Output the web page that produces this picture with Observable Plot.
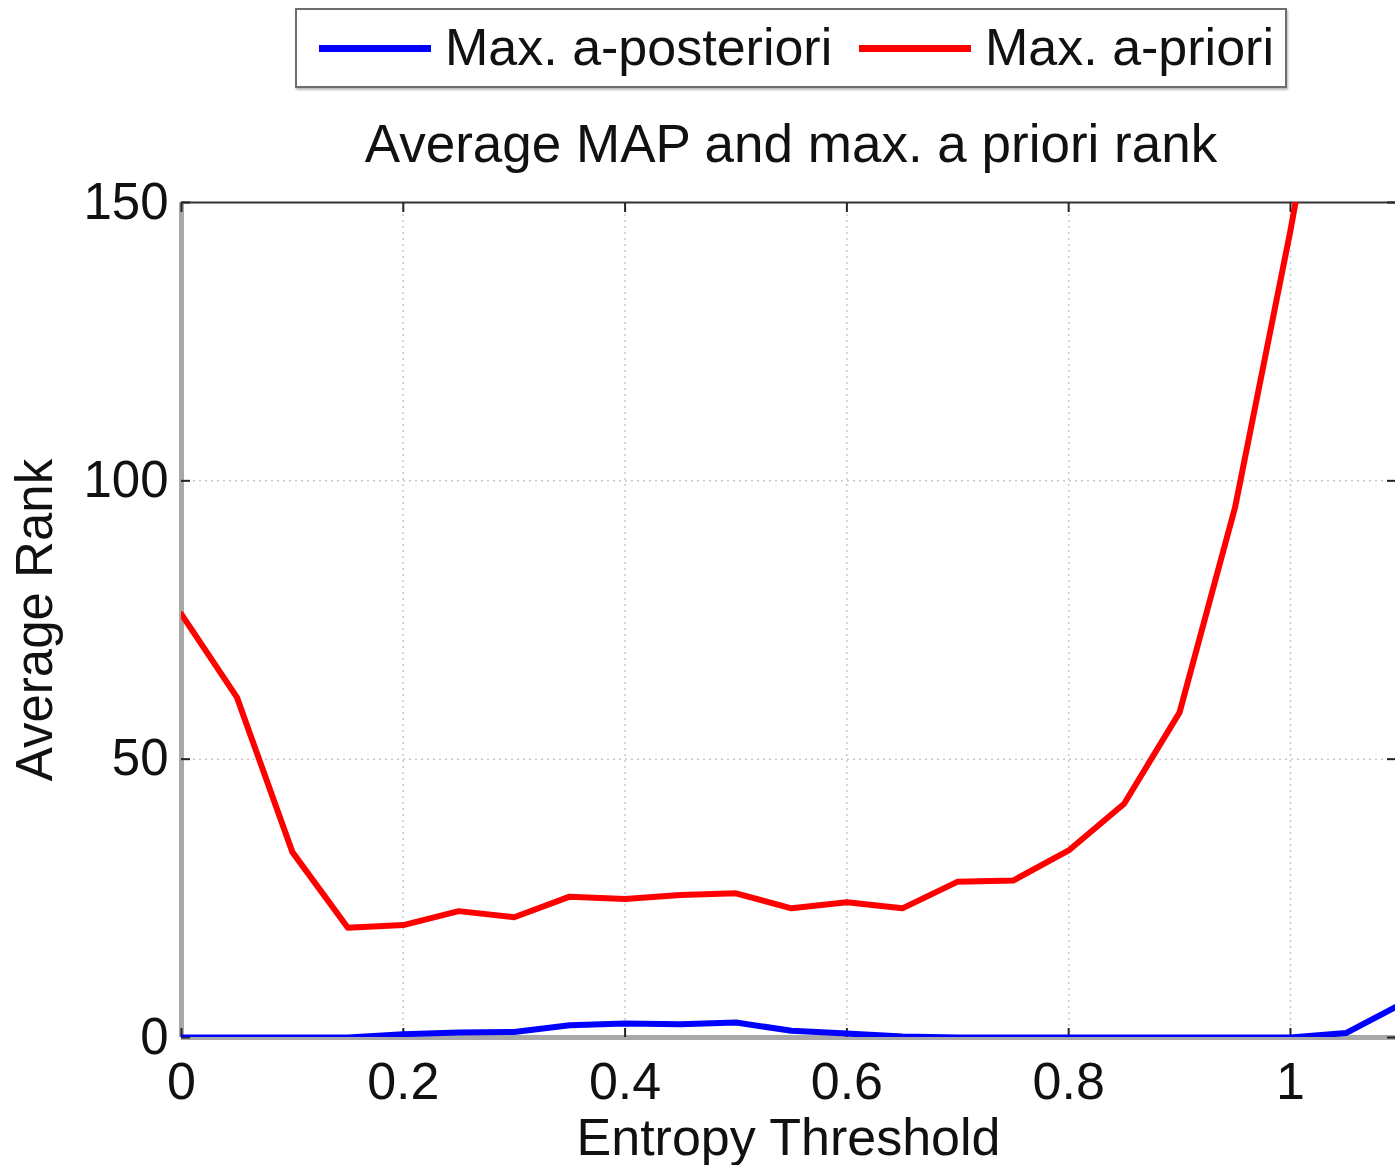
<!DOCTYPE html>
<html>
<head>
<meta charset="utf-8">
<script src="https://cdn.jsdelivr.net/npm/d3@7"></script>
<script src="https://cdn.jsdelivr.net/npm/@observablehq/plot@0.6"></script>
<style>
  html, body { margin: 0; padding: 0; background: #fff; }
  #page { position: relative; width: 1395px; height: 1165px; overflow: hidden; font-family: "Liberation Sans", Arial, sans-serif; color: #111; }
  #header { position: relative; width: 1395px; height: 165px; }
  #legend { position: absolute; left: 295px; top: 8px; width: 988px; height: 76px; border: 2px solid #6e6e6e; box-shadow: 1px 2px 2px #bbb; background: #fff; }
  .sw { position: absolute; top: 35px; height: 7px; width: 112px; }
  .lt { position: absolute; top: 7px; font-size: 52px; line-height: 60px; white-space: nowrap; }
  #title { position: absolute; left: 181px; width: 1220px; top: 112px; text-align: center; font-size: 53px; line-height: 64px; white-space: nowrap; }
  #chart svg { display: block; overflow: visible; }
</style>
</head>
<body>
<div id="page">
  <div id="header">
    <div id="legend"></div>
    <div id="title"></div>
  </div>
  <div id="chart"></div>
</div>
<script>
// ---- data ----
const thresholds = [0, 0.05, 0.1, 0.15, 0.2, 0.25, 0.3, 0.35, 0.4, 0.45, 0.5, 0.55, 0.6, 0.65, 0.7, 0.75, 0.8, 0.85, 0.9, 0.95, 1.0, 1.05, 1.1];
const maxAPosteriori = [0, 0, 0, 0, 0.6, 0.9, 1.0, 2.2, 2.5, 2.4, 2.7, 1.2, 0.7, 0.2, 0, 0, 0, 0, 0, 0, 0, 0.8, 6.0];
const maxAPriori = [76, 61.1, 33.3, 19.7, 20.2, 22.7, 21.6, 25.3, 24.9, 25.6, 25.9, 23.2, 24.3, 23.2, 28.0, 28.2, 33.6, 42.0, 58.4, 95.2, 145, 200, 280];
const seriesNames = ["Max. a-posteriori", "Max. a-priori"];
const seriesColors = ["#0000ff", "#ff0000"];
const xTicks = [0, 0.2, 0.4, 0.6, 0.8, 1];
const yTicks = [0, 50, 100, 150];
const titleText = "Average MAP and max. a priori rank";
const xLabel = "Entropy Threshold";
const yLabel = "Average Rank";

// ---- table ----
const rows = [];
thresholds.forEach((t, i) => {
  rows.push({x: t, y: maxAPosteriori[i], s: seriesNames[0]});
  rows.push({x: t, y: maxAPriori[i], s: seriesNames[1]});
});

// ---- header (legend + title) ----
const legend = document.getElementById("legend");
const swX = [22, 562];
const txX = [148, 688];
seriesNames.forEach((n, i) => {
  const sw = document.createElement("div");
  sw.className = "sw";
  sw.style.left = swX[i] + "px";
  sw.style.background = seriesColors[i];
  legend.appendChild(sw);
  const tx = document.createElement("div");
  tx.className = "lt";
  tx.style.left = txX[i] + "px";
  tx.textContent = n;
  legend.appendChild(tx);
});
document.getElementById("title").textContent = titleText;

// ---- chart ----
const fmt = d => d === 0 ? "0" : d === 1 ? "1" : String(d);
const chart = Plot.plot({
  width: 1395,
  height: 1000,
  marginTop: 37,
  marginLeft: 181,
  marginRight: 0,
  marginBottom: 128,
  style: {fontFamily: "'Liberation Sans', Arial, sans-serif", fontSize: "51px", color: "#111", background: "#fff", overflow: "visible"},
  x: {domain: [0, 1.0947], ticks: xTicks},
  y: {domain: [0, 150], ticks: yTicks},
  color: {domain: seriesNames, range: seriesColors},
  marks: [
    Plot.gridX(xTicks.filter(d => d > 0), {stroke: "#c8c8c8", strokeOpacity: 1, strokeWidth: 1.5, strokeDasharray: "2,4"}),
    Plot.gridY(yTicks.filter(d => d > 0 && d < 150), {stroke: "#c8c8c8", strokeOpacity: 1, strokeWidth: 1.5, strokeDasharray: "2,4"}),
    Plot.ruleY([150], {stroke: "#333", strokeWidth: 2}),
    Plot.ruleX([0], {stroke: "#a8a8a8", strokeWidth: 5}),
    Plot.ruleY([0], {stroke: "#a8a8a8", strokeWidth: 5}),
    // inward tick marks
    Plot.axisX(xTicks, {anchor: "bottom", tickSize: -9, text: null, label: null, stroke: "#222", strokeWidth: 2}),
    Plot.axisX(xTicks, {anchor: "top", tickSize: -9, text: null, label: null, stroke: "#222", strokeWidth: 2}),
    Plot.axisY(yTicks, {anchor: "left", tickSize: -9, text: null, label: null, stroke: "#222", strokeWidth: 2}),
    Plot.axisY(yTicks, {anchor: "right", tickSize: -9, text: null, label: null, stroke: "#222", strokeWidth: 2}),
    // labels
    Plot.axisX(xTicks, {anchor: "bottom", tickSize: 0, tickPadding: 25, tickFormat: fmt, fontSize: 52, label: xLabel, labelAnchor: "center", labelOffset: 117, labelArrow: "none", fill: "#111"}),
    Plot.axisY(yTicks, {anchor: "left", tickSize: 0, tickPadding: 13, fontSize: 51, label: yLabel, labelAnchor: "center", labelOffset: 166, labelArrow: "none", fill: "#111"}),
    Plot.line(rows, {x: "x", y: "y", stroke: "s", z: "s", strokeWidth: 6, clip: true, strokeLinejoin: "round"})
  ]
});
document.getElementById("chart").appendChild(chart);
</script>
</body>
</html>
